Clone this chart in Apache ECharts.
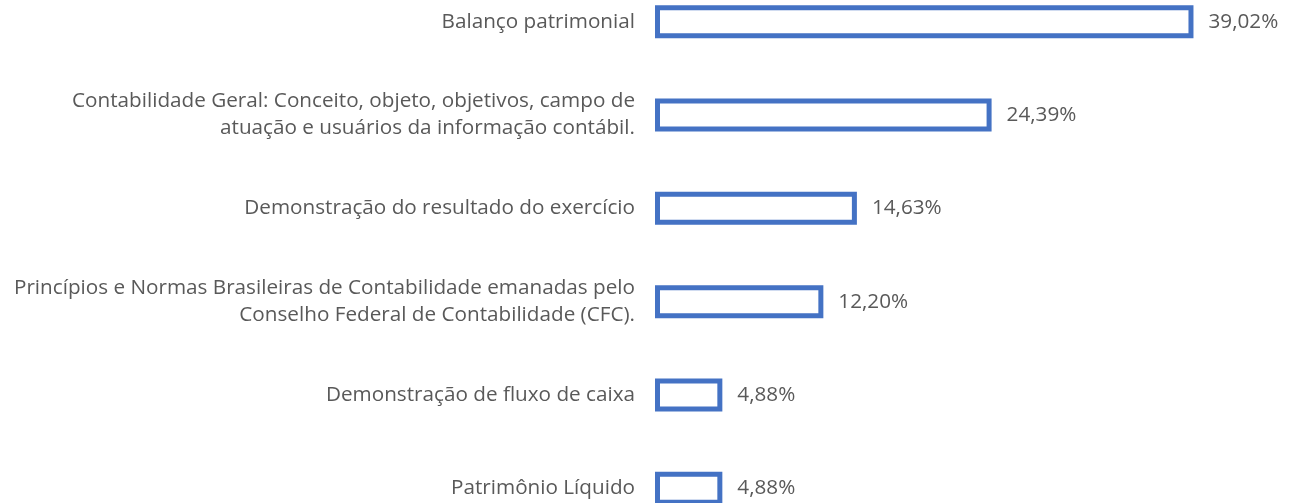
<!DOCTYPE html>
<html>
<head>
<meta charset="utf-8">
<script src="https://cdn.jsdelivr.net/npm/echarts@6/dist/echarts.min.js"></script>
<style>
html, body { margin: 0; padding: 0; background: #fff; }
#chart { width: 1300px; height: 503px; }
</style>
</head>
<body>
<div id="chart"></div>
<script>
// categorias (de cima para baixo)
var categories = [
    'Balanço patrimonial',
    'Contabilidade Geral: Conceito, objeto, objetivos, campo de\natuação e usuários da informação contábil.',
    'Demonstração do resultado do exercício',
    'Princípios e Normas Brasileiras de Contabilidade emanadas pelo\nConselho Federal de Contabilidade (CFC).',
    'Demonstração de fluxo de caixa',
    'Patrimônio Líquido'
];
var values = [39.02, 24.39, 14.63, 12.20, 4.88, 4.88];

var myChart = echarts.init(document.getElementById('chart'));

var option = {
    animation: false,
    textStyle: { fontFamily: 'Open Sans' },
    grid: {
        left: 655,
        width: 621,
        top: -25,
        height: 560,
        outerBoundsMode: 'none',
        containLabel: false
    },
    xAxis: {
        type: 'value',
        min: 0,
        max: 45,
        show: false
    },
    yAxis: {
        type: 'category',
        data: categories,
        inverse: true,
        axisLine: { show: false },
        axisTick: { show: false },
        axisLabel: {
            color: '#595959',
            fontSize: 20.7,
            margin: 20,
            lineHeight: 27,
            align: 'right'
        }
    },
    series: [{
        type: 'bar',
        data: values,
        barWidth: 33,
        itemStyle: {
            color: '#ffffff',
            borderColor: '#4472C4',
            borderWidth: 5
        },
        label: {
            show: true,
            position: 'right',
            distance: 15,
            color: '#595959',
            fontSize: 20.7,
            formatter: function (p) {
                return p.value.toFixed(2).replace('.', ',') + '%';
            }
        }
    }]
};

myChart.setOption(option);
</script>
</body>
</html>
